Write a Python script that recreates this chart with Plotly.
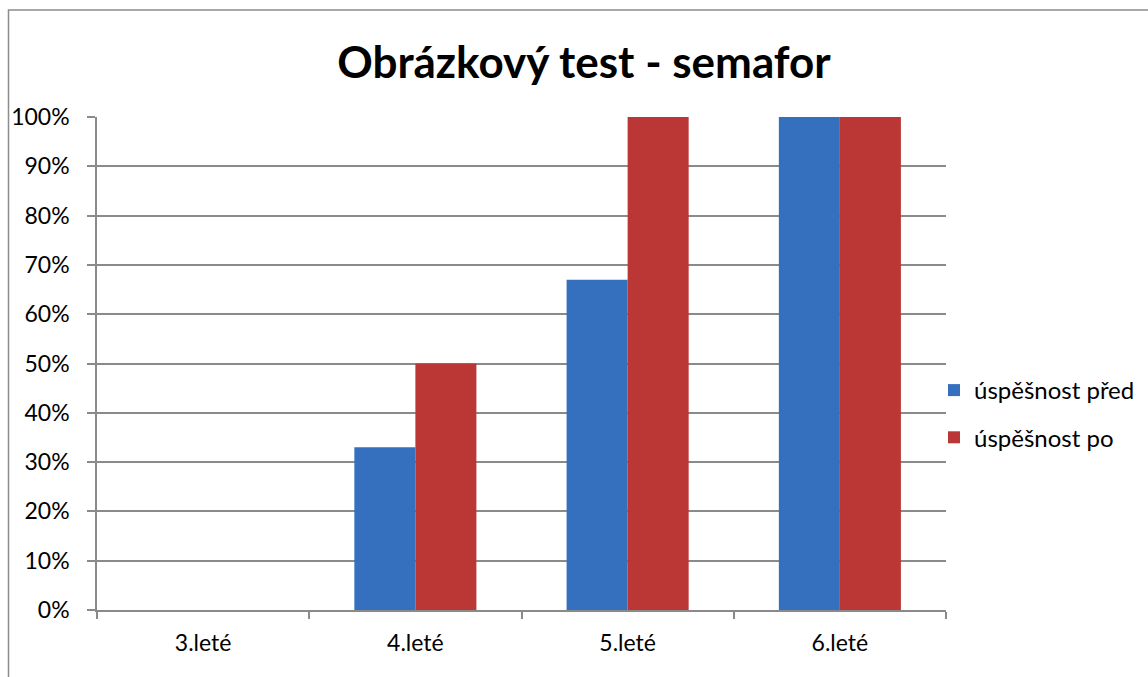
import plotly.graph_objects as go

categories = ["3.leté", "4.leté", "5.leté", "6.leté"]
before = [0.0, 0.33, 0.67, 1.0]
after = [0.0, 0.5, 1.0, 1.0]
series_names = ["úspěšnost před", "úspěšnost po"]

FONT = "Lato, Calibri, Carlito, sans-serif"
GRID = "#8a8a8a"

fig = go.Figure()
fig.add_trace(go.Bar(x=categories, y=before, name=series_names[0],
                     marker=dict(color="#3470bd", line=dict(width=0)),
                     legendgroup="a"))
fig.add_trace(go.Bar(x=categories, y=after, name=series_names[1],
                     marker=dict(color="#ba3735", line=dict(width=0)),
                     legendgroup="b"))

W, H = 1148, 677
L, R, T, B = 97, 946, 117, 610
pw, ph = R - L, B - T

def px(x):
    return (x - L) / pw

def py(y):
    return (B - y) / ph

fig.update_layout(
    width=W, height=H,
    margin=dict(l=L, r=W - R, t=T, b=H - B, pad=0, autoexpand=False),
    paper_bgcolor="white", plot_bgcolor="white",
    barmode="group", bargap=0.425, bargroupgap=0,
    font=dict(family=FONT, size=22, color="#000000"),
    title=dict(text="<b>Obrázkový test - semafor</b>", x=px(584), xanchor="center",
               y=1 - 63 / H, yanchor="middle", xref="paper",
               font=dict(family=FONT, size=44, color="#000000")),
    showlegend=True,
    legend=dict(x=px(934), xanchor="left", y=py(414), yanchor="middle",
                font=dict(family=FONT, size=24), tracegroupgap=13,
                traceorder="grouped", bgcolor="rgba(0,0,0,0)",
                itemwidth=30),
    xaxis=dict(showgrid=False, showline=True, linecolor=GRID, linewidth=1.5,
               ticks="outside", tickson="boundaries", ticklen=7, tickcolor=GRID,
               tickwidth=1.5, ticklabelstandoff=12, tickfont=dict(size=23)),
    yaxis=dict(range=[0, 1], dtick=0.1, tickformat=".0%", showgrid=True,
               gridcolor=GRID, gridwidth=1.5, showline=True, linecolor=GRID,
               linewidth=1.5, ticks="outside", ticklen=8, tickcolor=GRID,
               tickwidth=1.5, zeroline=False, ticklabelstandoff=13,
               tickfont=dict(size=23), fixedrange=True),
    shapes=[dict(type="rect", xref="paper", yref="paper",
                 x0=px(8.5), x1=px(1160), y0=py(690), y1=py(10),
                 line=dict(color="#8c8c8c", width=1.5), layer="below")],
)

fig.write_html("out.html", config={"displayModeBar": False},
               post_script="document.body.style.margin='0px';")
